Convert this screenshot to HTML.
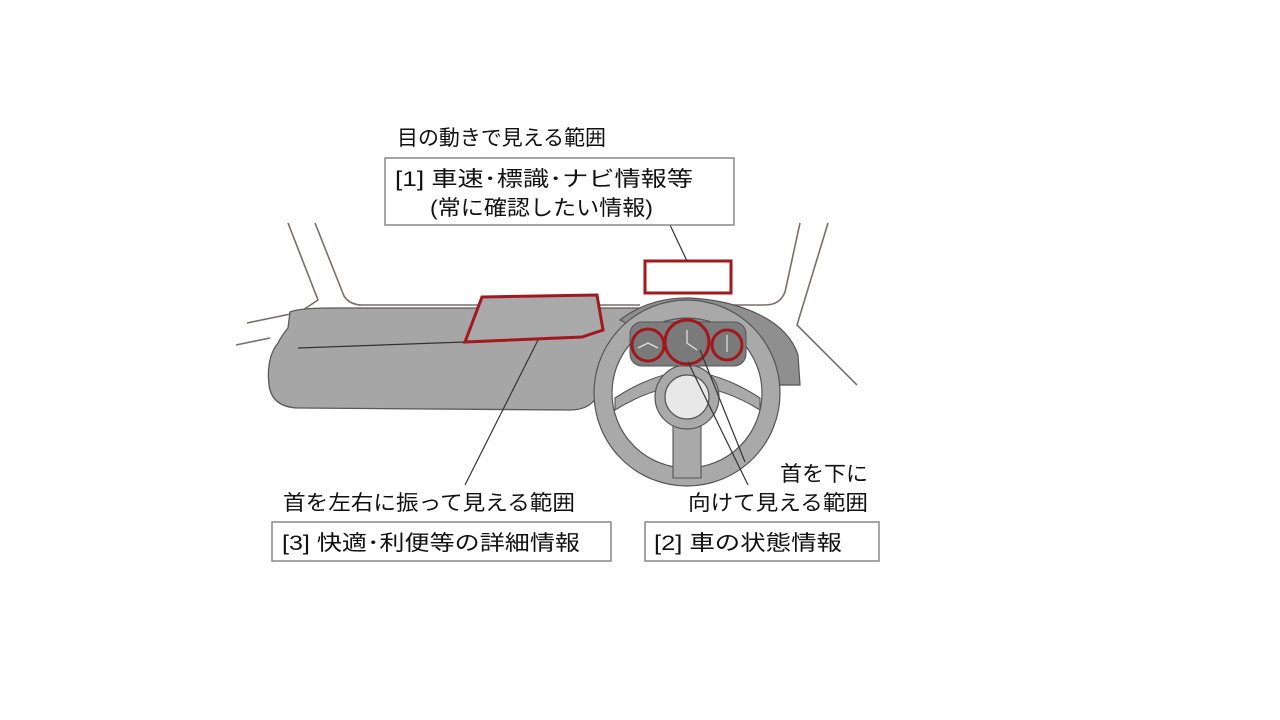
<!DOCTYPE html>
<html><head><meta charset="utf-8"><style>
html,body{margin:0;padding:0;background:#fff;}
svg{display:block;}
text{font-family:"Liberation Sans","Noto Sans CJK JP",sans-serif;font-size:21px;fill:#111;}
</style></head><body>
<svg width="1280" height="720" viewBox="0 0 1280 720" xmlns="http://www.w3.org/2000/svg">
<g fill="none" stroke="#7a6e6a" stroke-width="1.6">
<path d="M288,223 L318,300 L300,312 L247,323"/>
<path d="M315,223 L344,296 Q350,305 362,305 L640,305"/>
<path d="M236,345 L270,338"/>
<path d="M800,223 L785,292 Q780,305 765,305 L720,305"/>
<path d="M828,223 L797,325 L857,385"/>
</g>
<path d="M290,312 Q300,308 330,308 L640,308 L628,330 Q600,360 598,395 Q590,410 570,410 L300,408 Q272,408 269,385 Q266,358 278,343 Q282,335 288,328 Z" fill="#a6a6a6" stroke="#5a5a5a" stroke-width="1.3"/>
<path d="M298,348 L465,342" stroke="#333" stroke-width="1.3"/>
<path d="M482,297 L597,295 L603,330 L582,337 L465,342 Z" fill="#a9a9a9" stroke="#a3171f" stroke-width="3"/>
<path d="M620,320 Q650,297 690,298 Q730,300 760,315 Q790,330 798,355 L800,385 L780,385 Q770,345 740,330 L640,330 Z" fill="#8f8f8f" stroke="#555" stroke-width="1.2"/>
<circle cx="687" cy="393" r="84" fill="none" stroke="#a9a9a9" stroke-width="18"/>
<circle cx="687" cy="393" r="93" fill="none" stroke="#555" stroke-width="1.2"/>
<circle cx="687" cy="393" r="75" fill="none" stroke="#555" stroke-width="1.2"/>
<path d="M615,398 Q650,375 687,370 Q725,375 760,398 L760,410 Q725,388 687,385 Q650,388 615,410 Z" fill="#a9a9a9" stroke="#555" stroke-width="1.1"/>
<path d="M673,420 L701,420 L701,478 L673,478 Z" fill="#a9a9a9" stroke="#555" stroke-width="1.1"/>
<circle cx="687" cy="397" r="32" fill="#a9a9a9" stroke="#555" stroke-width="1.2"/>
<circle cx="687" cy="397" r="22" fill="#e8e8e8" stroke="#555" stroke-width="1.2"/>
<rect x="630" y="322" width="116" height="44" rx="12" fill="#7d7d7d" stroke="#555" stroke-width="1"/>
<circle cx="648" cy="345" r="16" fill="#7a7a7a" stroke="#a3171f" stroke-width="3"/>
<circle cx="687" cy="342" r="22" fill="#7a7a7a" stroke="#a3171f" stroke-width="3"/>
<circle cx="727" cy="345" r="15" fill="#7a7a7a" stroke="#a3171f" stroke-width="3"/>
<g stroke="#ddd" stroke-width="1.3" fill="none"><path d="M638,348 L648,343 L658,348"/><path d="M687,330 L687,343 L697,350"/><path d="M727,335 L727,352"/></g>
<rect x="645" y="261" width="86" height="32" fill="#fff" stroke="#a3171f" stroke-width="3"/>
<g stroke="#333" stroke-width="1.2" fill="none">
<path d="M670,225 L687,261"/>
<path d="M538,340 L465,485"/>
<path d="M688,362 L748,485"/>
<path d="M700,350 L745,462"/>
</g>
<g fill="#fff" stroke="#888" stroke-width="1.5">
<rect x="385" y="158" width="349" height="67"/>
<rect x="272" y="522" width="339" height="39"/>
<rect x="645" y="522" width="234" height="39"/>
</g>
<text x="397" y="145" textLength="209" lengthAdjust="spacingAndGlyphs">目の動きで見える範囲</text>
<text x="395" y="186" textLength="298" lengthAdjust="spacingAndGlyphs">[1]  車速･標識･ナビ情報等</text>
<text x="430" y="215" textLength="223" lengthAdjust="spacingAndGlyphs">(常に確認したい情報)</text>
<text x="283" y="510" textLength="292" lengthAdjust="spacingAndGlyphs">首を左右に振って見える範囲</text>
<text x="780" y="481" textLength="88" lengthAdjust="spacingAndGlyphs">首を下に</text>
<text x="688" y="510" textLength="180" lengthAdjust="spacingAndGlyphs">向けて見える範囲</text>
<text x="282" y="550" textLength="298" lengthAdjust="spacingAndGlyphs">[3]   快適･利便等の詳細情報</text>
<text x="654" y="550" textLength="188" lengthAdjust="spacingAndGlyphs">[2]   車の状態情報</text>
</svg>
</body></html>
